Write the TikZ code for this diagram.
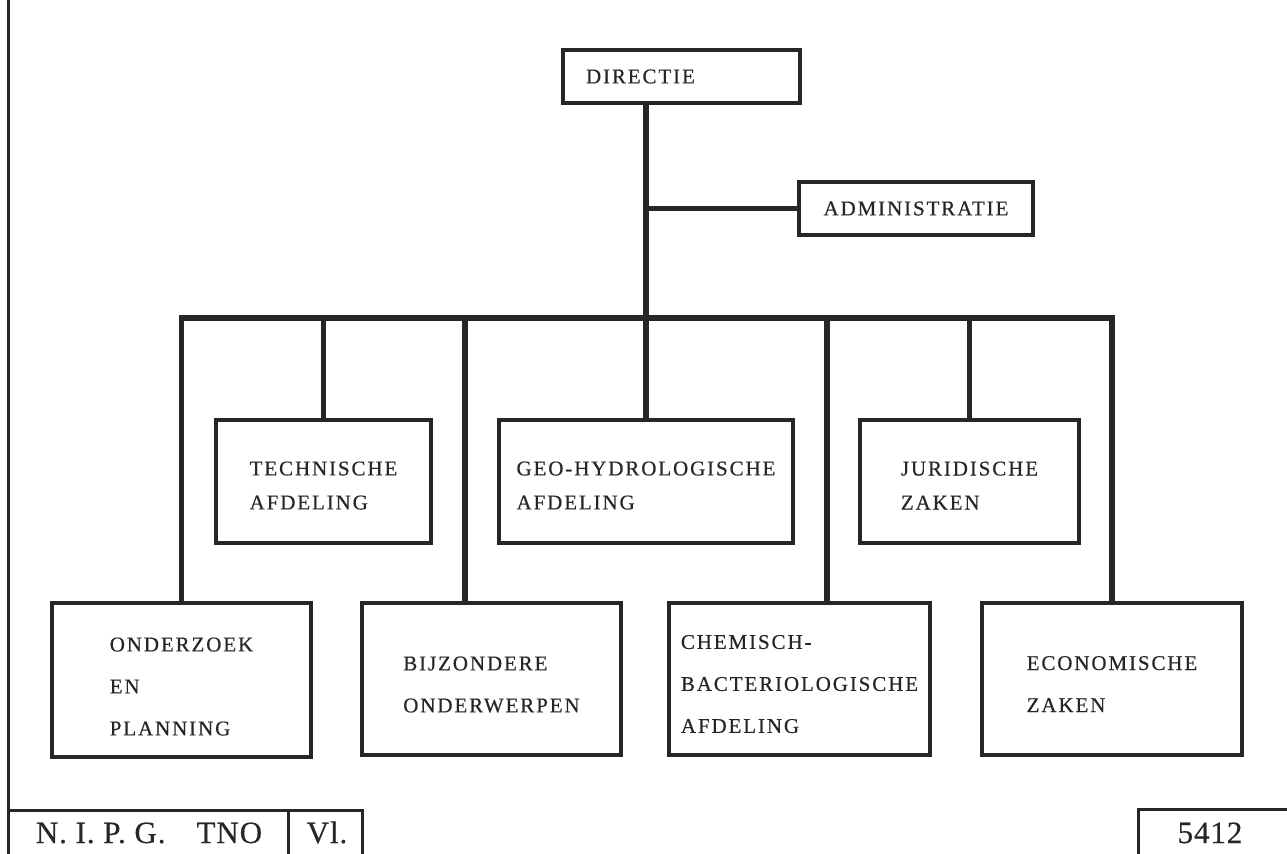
\documentclass[tikz,border=0pt]{standalone}
\usepackage{fontspec}
\setmainfont{Liberation Serif}[LetterSpace=9,FakeBold=0.5]
\newfontfamily\labfont{Liberation Serif}[LetterSpace=3,FakeBold=0.4]
\definecolor{ink}{HTML}{262626}
\newcommand\liftup[1]{\rule{0pt}{#1}}
\begin{document}
\begin{tikzpicture}[x=0.5pt,y=-0.5pt,
  box/.style={draw=ink, line width=2pt, rectangle, align=left, inner sep=0pt, text=ink},
  up/.style={box, minimum height=61.5pt, font=\fontsize{10.5}{17}\selectfont},
  low/.style={box, font=\fontsize{10.5}{21}\selectfont},
  top/.style={box, minimum height=26.5pt, font=\fontsize{10.5}{12}\selectfont},
  conn/.style={draw=ink, line width=2.6pt},
  frame/.style={draw=ink, line width=1.5pt},
  lab/.style={anchor=base, inner sep=0pt, text=ink, font=\labfont\fontsize{15.5}{18}\selectfont}]
\useasboundingbox (0,0) rectangle (1287,853);
% boxes
\node[top, text width=95.5pt, inner xsep=11.5pt] (dir) at (681.5,76.5) {DIRECTIE};
\node[top, minimum width=117pt] (adm) at (916,208.5) {ADMINISTRATIE};
\node[up, minimum width=107.5pt] (tech) at (323.5,481.5) {\liftup{11pt}TECHNISCHE\\AFDELING};
\node[up, minimum width=147pt] (geo) at (646,481.5) {\liftup{11pt}GEO-HYDROLOGISCHE\\AFDELING};
\node[up, minimum width=109.5pt] (jur) at (969.5,481.5) {\liftup{11pt}JURIDISCHE\\ZAKEN};
\node[low, minimum width=129.5pt, minimum height=77pt] (ond) at (181.5,680) {\liftup{13.5pt}ONDERZOEK\\EN\\PLANNING};
\node[low, minimum width=129.5pt, minimum height=76pt] (bij) at (491.5,679) {\liftup{12.5pt}BIJZONDERE\\ONDERWERPEN};
\node[low, minimum width=130.5pt, minimum height=76pt] (chem) at (799.5,679) {\liftup{12pt}CHEMISCH-\\BACTERIOLOGISCHE\\AFDELING};
\node[low, minimum width=130pt, minimum height=76pt] (eco) at (1112,679) {\liftup{12pt}ECONOMISCHE\\ZAKEN};
% connectors
\coordinate (busR) at (1112,318);
\draw[conn] ([xshift=-17.75pt]dir.south) -- (geo.north);
\draw[conn] (adm.west) -- (adm.west -| geo.north);
\draw[conn] (ond.north) |- (busR) -- (eco.north);
\draw[conn] (tech.north) -- (tech.north |- busR);
\draw[conn] ([xshift=-13.25pt]bij.north) -- ([xshift=-13.25pt]bij.north |- busR);
\draw[conn] ([xshift=13.75pt]chem.north) -- ([xshift=13.75pt]chem.north |- busR);
\draw[conn] (jur.north) -- (jur.north |- busR);
% frame and title block
\draw[frame] (8,-10) -- (8,880);
\draw[frame] (8,880) |- (362,810) -- (362,880);
\draw[frame] (288,810) -- (288,880);
\draw[frame] (1138,880) |- (1300,809);
\node[lab] (nipg) at (149,843) {N. I. P. G.\hspace{1em}TNO};
\node[lab] (vl) at (327,843) {Vl.};
\node[lab] (num) at (1210,843) {5412};
\end{tikzpicture}
\end{document}
